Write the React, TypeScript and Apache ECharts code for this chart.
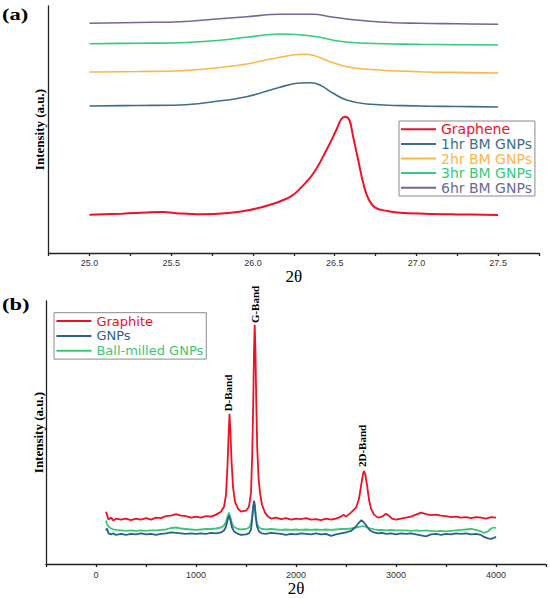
import React, { useEffect, useRef } from "react";
import * as echarts from "echarts";

// ---- (a) XRD curves: [2θ, intensity (a.u., offset stacked)] ----
const xrdNames = ["Graphene", "1hr BM GNPs", "2hr BM GNPs", "3hr BM GNPs", "6hr BM GNPs"];
const graphene = [[25.0,38.3],[25.2,39.3],[25.35,40.5],[25.45,41],[25.55,39.6],[25.68,38.8],[25.85,40],[25.98,43],[26.12,49],[26.23,56.3],[26.29,64.7],[26.37,79.7],[26.45,103],[26.51,123],[26.54,133.7],[26.563,136.3],[26.59,133],[26.613,116.3],[26.644,93],[26.675,69.7],[26.705,54.7],[26.746,45.7],[26.82,42],[26.9,40.3],[27.05,39.3],[27.25,38.6],[27.5,38]];
const bm1hr = [[25.0,147],[25.3,147.5],[25.554,148],[25.757,151.3],[25.961,156.3],[26.165,165.7],[26.267,169.7],[26.349,170.3],[26.41,168],[26.491,159.7],[26.573,153],[26.695,149],[27.02,147],[27.25,146.5],[27.5,146]];
const bm2hr = [[25.0,181],[25.3,181.5],[25.554,182.3],[25.757,184.7],[25.961,189],[26.165,195.7],[26.308,198.7],[26.369,197.7],[26.471,191.3],[26.573,186.3],[26.695,183.7],[27.02,181.3],[27.25,180.6],[27.5,180]];
const bm3hr = [[25.0,209.3],[25.3,209.8],[25.554,210.3],[25.757,212.3],[25.961,215.7],[26.165,219],[26.287,218.3],[26.41,215.7],[26.532,211.7],[26.695,209.7],[27.02,208.7],[27.25,208.3],[27.5,208]];
const bm6hr = [[25.0,229.7],[25.3,230.5],[25.554,231.3],[25.757,233.7],[25.961,236.3],[26.165,238.7],[26.369,238.7],[26.471,236.3],[26.573,234],[26.777,231],[27.02,229.7],[27.25,229.2],[27.5,228.7]];
const xrdData = [graphene, bm1hr, bm2hr, bm3hr, bm6hr];

// ---- (b) Raman spectra: [shift, intensity (a.u.)] ----
const ramanNames = ["Graphite", "GNPs", "Ball-milled GNPs"];
const graphite = [[100,53],[110,50],[125,45],[150,47],[175,44],[200,46],[250,45],[300,46],[350,44.5],[400,46],[450,45],[500,46.5],[550,45],[600,47],[650,46.5],[700,48.5],[750,49],[800,50.5],[850,49],[900,48.5],[950,47],[1000,48],[1050,47],[1100,48.5],[1150,48],[1200,50],[1250,53],[1280,58],[1300,70],[1315,100],[1325,128],[1335,152],[1345,132],[1355,105],[1370,78],[1390,63],[1420,56],[1450,53],[1500,54],[1530,58],[1550,72],[1562,110],[1572,160],[1580,215],[1587,242],[1594,218],[1602,168],[1612,118],[1625,88],[1640,72],[1660,60],[1690,52],[1720,48],[1750,46],[1800,47],[1850,45.5],[1900,46.5],[1950,45],[2000,46],[2050,45.5],[2100,46.5],[2150,45],[2200,45.5],[2250,44.5],[2300,46],[2350,45],[2400,46],[2450,48],[2475,50],[2500,48],[2550,52],[2600,57],[2630,66],[2655,82],[2670,91],[2680,94],[2692,91],[2710,80],[2730,65],[2750,56],[2780,50],[2820,47],[2860,48],[2900,51],[2930,49],[2960,46],[3000,45],[3050,46],[3100,47],[3150,48],[3200,50],[3250,52],[3300,50.5],[3350,49.5],[3400,50],[3450,49],[3500,48.5],[3550,47.5],[3600,48],[3650,47],[3700,47.5],[3750,46.5],[3800,47.5],[3850,47],[3900,46],[3950,47.5],[4000,47]];
const gnps = [[100,34],[110,36],[125,31],[150,30],[175,31],[200,29.5],[250,30.5],[300,29.5],[350,30.5],[400,30],[450,31],[500,30],[550,30.5],[600,29.5],[650,30.5],[700,31],[750,32],[800,31.5],[850,31],[900,30.5],[950,31],[1000,30.5],[1050,31],[1100,30.5],[1150,31.5],[1200,31],[1250,32],[1280,34],[1300,38],[1315,44],[1330,49],[1345,44],[1360,37],[1380,33],[1420,30.5],[1450,29.5],[1500,30],[1530,31],[1550,35],[1562,45],[1572,58],[1580,64],[1588,60],[1598,47],[1610,38],[1630,33],[1660,31],[1700,30.5],[1750,31.5],[1800,31],[1850,30.5],[1900,29.5],[1950,30.5],[2000,30],[2050,31],[2100,30.5],[2150,30],[2200,31],[2250,30],[2300,30.5],[2350,28.5],[2400,30],[2450,31],[2500,32],[2550,33.5],[2600,38],[2630,42],[2655,44.5],[2680,42],[2710,38],[2740,34],[2780,32],[2820,31],[2860,31.5],[2900,30.5],[2950,31],[3000,30],[3050,31],[3100,30.5],[3150,31],[3200,30],[3250,29],[3300,28],[3350,30],[3400,30.5],[3450,29.5],[3500,30.5],[3550,30],[3600,31],[3650,30.5],[3700,31],[3750,30],[3800,30.5],[3850,29.5],[3880,27.5],[3920,26],[3950,25.5],[3980,26.5],[4000,27.5]];
const ballMilled = [[100,44],[110,40],[125,38],[150,36],[175,35],[200,34.5],[250,34],[300,33.5],[350,34],[400,33.5],[450,34],[500,33.5],[550,34],[600,34],[650,34.5],[700,35],[750,36.5],[800,37],[850,36],[900,35.5],[950,35],[1000,34.5],[1050,35],[1100,35.5],[1150,35.5],[1200,36],[1250,37],[1280,39],[1300,43],[1315,48],[1330,52],[1345,47],[1360,41],[1380,37.5],[1420,35.5],[1450,35],[1500,35.5],[1530,37],[1550,41],[1562,50],[1572,58],[1580,61],[1588,57],[1598,48],[1610,41],[1630,37],[1660,35.5],[1700,35],[1750,35.5],[1800,35],[1850,34.5],[1900,35],[1950,34.5],[2000,35],[2050,34.5],[2100,35],[2150,34.5],[2200,35],[2250,34.5],[2300,35],[2350,34.5],[2400,35],[2450,35.5],[2500,35.5],[2550,36],[2600,37],[2640,38],[2670,38.5],[2700,37.5],[2740,36],[2780,35],[2820,34.5],[2860,34.5],[2900,34],[2950,34.5],[3000,34],[3050,34],[3100,34],[3150,33.5],[3200,34],[3250,33.5],[3300,34],[3350,33.5],[3400,33],[3450,33.5],[3500,33],[3550,33.5],[3600,34],[3650,34.5],[3700,35],[3750,35.5],[3800,34.5],[3850,33],[3880,31.5],[3920,33],[3950,36],[3980,37],[4000,36.5]];
const ramanData = [graphite, gnps, ballMilled];

// band annotations (anchored in data units)
const bandNames = ["D-Band", "G-Band", "2D-Band"];
const bandShift = [1322, 1585, 2664];
const bandLevel = [173, 262.5, 119.5];

const xrdColors = ["#f0102a", "#3f6e8c", "#fbb847", "#33cc77", "#6b6a9a"];
const ramanColors = ["#ee1122", "#2b5f8e", "#38c878"];

export default function App() {
  const ref = useRef<HTMLDivElement>(null);
  useEffect(() => {
    document.body.style.margin = "0";
    if (!ref.current) return;
    const chart = echarts.init(ref.current, null, { renderer: "svg" });
    const axisColor = "#222";
    const serif = "'Liberation Serif', 'Times New Roman', serif";
    const sans = "'Liberation Sans', Arial, sans-serif";
    const xAxisBase = {
      type: "value",
      axisLine: { show: true, onZero: false, lineStyle: { color: axisColor, width: 1.3 } },
      axisTick: { show: true, length: 3, lineStyle: { color: axisColor, width: 1.3 } },
      splitLine: { show: false },
      name: "2θ",
      nameLocation: "middle",
      nameGap: 14.5,
      nameTextStyle: { fontFamily: serif, fontSize: 17, color: "#000" },
    };
    const yAxisBase = {
      type: "value",
      min: 0,
      axisLine: { show: true, onZero: false, lineStyle: { color: axisColor, width: 1.3 } },
      axisTick: { show: false },
      axisLabel: { show: false },
      splitLine: { show: false },
      name: "Intensity (a.u.)",
      nameLocation: "middle",
      nameTextStyle: { fontFamily: serif, fontWeight: "bold", fontSize: 13, color: "#000" },
    };
    const legendBase = {
      orient: "vertical",
      icon: "rect",
      itemWidth: 35,
      itemHeight: 2,
      itemGap: 0,
      borderColor: "#8a8a8a",
      borderWidth: 1,
    };
    const option: any = {
      animation: false,
      backgroundColor: "#fff",
      graphic: [
        { type: "text", x: 2, y: 6, scaleX: 1.33, style: { text: "(a)", fontFamily: serif, fontWeight: "bold", fontSize: 17, fill: "#000", verticalAlign: "top" } },
        { type: "text", x: 2, y: 296, scaleX: 1.33, style: { text: "(b)", fontFamily: serif, fontWeight: "bold", fontSize: 17, fill: "#000", verticalAlign: "top" } },
      ],
      grid: [
        { left: 48.6, right: 11, top: 6, height: 247 },
        { left: 46, right: 4, top: 301, height: 266 },
      ],
      xAxis: [
        {
          ...xAxisBase,
          gridIndex: 0,
          min: 24.75,
          max: 27.75,
          interval: 0.25,
          axisLabel: {
            fontFamily: sans, fontSize: 9, color: "#333", margin: 5,
            formatter: (v: number) => (Math.abs(v * 2 - Math.round(v * 2)) < 1e-6 ? v.toFixed(1) : ""),
          },
        },
        {
          ...xAxisBase,
          gridIndex: 1,
          min: -500,
          max: 4500,
          interval: 500,
          axisLabel: {
            fontFamily: sans, fontSize: 9, color: "#333", margin: 6,
            formatter: (v: number) => (v >= 0 && v <= 4000 && v % 1000 === 0 ? String(v) : ""),
          },
        },
      ],
      yAxis: [
        { ...yAxisBase, gridIndex: 0, max: 247, nameGap: 3 },
        { ...yAxisBase, gridIndex: 1, max: 266, nameGap: 1.5 },
      ],
      legend: [
        {
          ...legendBase,
          left: 399, top: 121,
          padding: [1, 3, 1, 2],
          textStyle: { fontFamily: "'DejaVu Sans', sans-serif", fontSize: 14, lineHeight: 14.6 },
          data: xrdNames.map((n, i) => ({ name: n, textStyle: { color: xrdColors[i] } })),
        },
        {
          ...legendBase,
          left: 54, top: 312.7,
          padding: [1, 3, 1, 2.4],
          textStyle: { fontFamily: "'DejaVu Sans', sans-serif", fontSize: 13, lineHeight: 14.8 },
          data: ramanNames.map((n, i) => ({ name: n, textStyle: { color: ramanColors[i] } })),
        },
      ],
      series: [
        ...xrdNames.map((n, i) => ({
          name: n, type: "line", xAxisIndex: 0, yAxisIndex: 0,
          data: xrdData[i], smooth: 0.4, symbol: "none",
          lineStyle: { color: xrdColors[i], width: i === 0 ? 2 : 1.6 },
          itemStyle: { color: xrdColors[i] },
        })),
        ...ramanNames.map((n, i) => ({
          name: n, type: "line", xAxisIndex: 1, yAxisIndex: 1,
          data: ramanData[i], symbol: "none", z: 2 + (2 - i),
          lineStyle: { color: ramanColors[i], width: 1.8 },
          itemStyle: { color: ramanColors[i] },
          markPoint: i === 0 ? {
            symbol: "circle", symbolSize: 1, itemStyle: { color: "transparent" },
            label: { show: true, position: "inside", rotate: 90, formatter: "{b}", color: "#000", fontFamily: serif, fontWeight: "bold", fontSize: 11 },
            data: bandNames.map((b, k) => ({ name: b, coord: [bandShift[k], bandLevel[k]] })),
          } : undefined,
        })),
      ],
    };
    chart.setOption(option);
    return () => chart.dispose();
  }, []);
  return <div ref={ref} style={{ width: 550, height: 598 }} />;
}
